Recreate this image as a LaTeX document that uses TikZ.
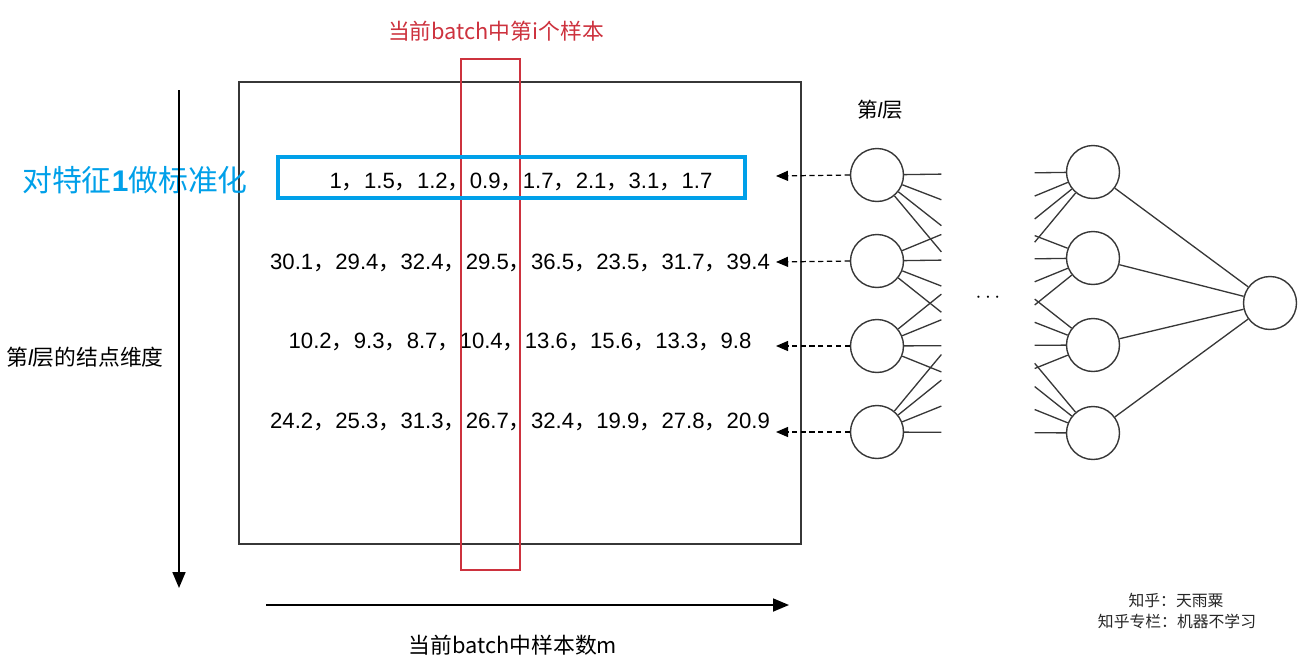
\documentclass[tikz,border=0pt]{standalone}
\usepackage{fontspec}
\setmainfont{Liberation Sans}
\newfontfamily\cjk{Noto Sans CJK SC}
\usepackage{xcolor}
\definecolor{zhred}{RGB}{205,50,62}
\definecolor{zhblue}{RGB}{0,160,233}
\definecolor{zhgray}{RGB}{55,55,55}
\usetikzlibrary{arrows.meta,calc}
\newcommand\zhc{{\cjk ，}}
\newcommand\lyr{{\rmfamily\itshape l}}

\begin{document}
\begin{tikzpicture}[x=0.02cm, y=-0.02cm,
  neuron/.style={draw=zhgray, circle, line width=0.8pt, minimum size=1.06cm, inner sep=0pt},
  wire/.style={line width=0.75pt, color=zhgray},
  rowtxt/.style={font=\fontsize{12.6}{15}\selectfont, inner sep=0pt},
  zhlbl/.style={font=\cjk\fontsize{12.4}{15}\selectfont, inner sep=0pt},
  axis/.style={-{Triangle[length=3.2mm, width=2.6mm]}, line width=1pt},
  feed/.style={-{Triangle[length=2.4mm, width=2mm]}, dash pattern=on 3pt off 2pt, line width=0.7pt},
  featbox/.style={draw=zhblue, line width=2pt, minimum width=9.34cm, minimum height=0.82cm, inner sep=0pt}
]
  \useasboundingbox (0,0) rectangle (1302,664);

  % matrix of the batch
  \draw[line width=1.1pt, color=zhgray] (239,82) rectangle (801,544);
  \node[rowtxt] (r1) at (521,182) {1\zhc 1.5\zhc 1.2\zhc 0.9\zhc 1.7\zhc 2.1\zhc 3.1\zhc 1.7};
  \node[rowtxt] (r2) at (520,263) {30.1\zhc 29.4\zhc 32.4\zhc 29.5\zhc 36.5\zhc 23.5\zhc 31.7\zhc 39.4};
  \node[rowtxt] (r3) at (520,342) {10.2\zhc 9.3\zhc 8.7\zhc 10.4\zhc 13.6\zhc 15.6\zhc 13.3\zhc 9.8};
  \node[rowtxt] (r4) at (520,422) {24.2\zhc 25.3\zhc 31.3\zhc 26.7\zhc 32.4\zhc 19.9\zhc 27.8\zhc 20.9};
  \draw[zhred, line width=0.8pt] (461,59) rectangle (520,570);
  \node[zhlbl, text=zhred] (sample) at (496,31) {当前batch中第i个样本};
  \node[featbox] (feat) at (511.5,177.5) {};
  \node[inner sep=0pt, text=zhblue, font=\fontsize{17}{20}\selectfont] (featlbl) at (135,180)
    {{\cjk 对特征}\textbf{1}{\cjk 做标准化}};

  % axes
  \coordinate (vtop) at (179,90);
  \coordinate (vbot) at (179,588);
  \coordinate (hleft) at (266,605);
  \coordinate (hright) at (789,605);
  \draw[axis] (vtop) -- (vbot);
  \draw[axis] (hleft) -- (hright);
  \node[zhlbl] (dim) at (85,357) {第\lyr 层的结点维度};
  \node[zhlbl] (num) at (513,645) {当前batch中样本数m};

  % network
  \foreach \i/\y in {1/175, 2/261, 3/346, 4/432}
    \node[neuron] (l\i) at (877,\y) {};
  \foreach \i/\y in {1/172, 2/258, 3/345, 4/433}
    \node[neuron] (h\i) at (1093,\y) {};
  \node[neuron] (out) at (1270,303) {};
  \node[zhlbl, font=\cjk\fontsize{11.7}{14}\selectfont] (layer) at (880,110) {第\lyr 层};
  \node[inner sep=0pt, font=\fontsize{12}{14}\selectfont] (dots) at (988,298) {$\cdots$};

  \foreach \i in {1,...,4}
    \foreach \j in {1,...,4} {
      \draw[wire] (l\i) -- ($(l\i)!0.298!(h\j)$);
      \draw[wire] (h\j) -- ($(h\j)!0.27!(l\i)$);
    }
  \foreach \j in {1,...,4}
    \draw[wire] (h\j) -- (out);

  % dashed feeds into the rows
  \foreach \i/\y in {1/176, 2/262, 3/346, 4/432} {
    \coordinate (a\i) at (776,\y);
    \draw[feed] (l\i.west) -- (a\i);
  }

  % watermark
  \node[inner sep=0pt, font=\cjk\fontsize{9}{11}\selectfont, text=black!85] (wm1) at (1176,600) {知乎：天雨粟};
  \node[inner sep=0pt, font=\cjk\fontsize{9}{11}\selectfont, text=black!85] (wm2) at (1177,621) {知乎专栏：机器不学习};
\end{tikzpicture}
\end{document}
